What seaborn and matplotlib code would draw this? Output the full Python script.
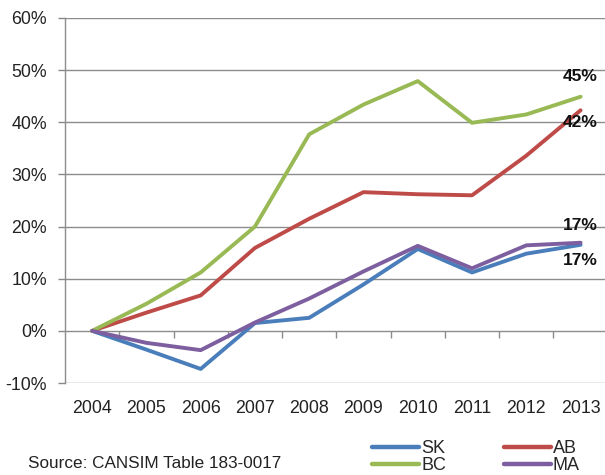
import matplotlib
matplotlib.use("Agg")
import matplotlib.pyplot as plt
import seaborn as sns
import pandas as pd
import numpy as np
from matplotlib.lines import Line2D

years = ["2004", "2005", "2006", "2007", "2008", "2009", "2010", "2011", "2012", "2013"]
sk = [0.0, -3.6, -7.3, 1.5, 2.5, 8.9, 15.7, 11.2, 14.8, 16.5]
ab = [0.0, 3.5, 6.8, 15.9, 21.5, 26.6, 26.2, 26.0, 33.6, 42.3]
bc = [0.0, 5.2, 11.2, 20.0, 37.7, 43.4, 47.9, 39.9, 41.5, 44.9]
ma = [0.0, -2.3, -3.7, 1.6, 6.2, 11.4, 16.3, 12.0, 16.4, 16.9]
series_names = ["SK", "AB", "BC", "MA"]
end_labels = {"BC": "45%", "AB": "42%", "MA": "17%", "SK": "17%"}
yticks = [-10, 0, 10, 20, 30, 40, 50, 60]
source_text = "Source: CANSIM Table 183-0017"

colors = {"SK": "#4A7EBB", "AB": "#BE4B48", "BC": "#98B954", "MA": "#7D5FA0"}

data = {"SK": sk, "AB": ab, "BC": bc, "MA": ma}
rows = []
for name in series_names:
    for i, v in enumerate(data[name]):
        rows.append({"year": i, "value": v, "region": name})
df = pd.DataFrame(rows)

sns.set_style("white")
plt.rcParams["font.family"] = ["Liberation Sans", "DejaVu Sans"]

fig = plt.figure(figsize=(6.05, 4.75), dpi=100)
ax = fig.add_axes([65 / 605, 1 - 383 / 475, 1 - 65 / 605, (383 - 18) / 475])

sns.lineplot(data=df, x="year", y="value", hue="region", hue_order=series_names,
             palette=colors, linewidth=2.8, ax=ax, legend=False)

ax.set_xlim(-0.5, 9.45)
ax.set_ylim(-10, 60)
ax.set_yticks(yticks)
ax.set_yticklabels([f"{t}%" for t in yticks], fontsize=12.8, color="#222222")
ax.set_xticks(range(len(years)))
ax.set_xticklabels(years, fontsize=12.8, color="#222222")
ax.tick_params(axis="x", length=0, pad=12)
ax.tick_params(axis="y", length=5, width=1, color="#888888", direction="out", pad=8, left=True)
ax.set_xlabel("")
ax.set_ylabel("")

for t in yticks:
    ax.axhline(t, color="#8c8c8c", linewidth=1.0, zorder=0)

for s in ["top", "right", "bottom"]:
    ax.spines[s].set_visible(False)
ax.spines["left"].set_color("#8c8c8c")
ax.spines["left"].set_linewidth(1.0)

# category boundary ticks on the 0% axis line
sec = ax.secondary_xaxis(location=10 / 70)
sec.set_xticks([i + 0.5 for i in range(len(years) - 1)])
sec.set_xticklabels([])
sec.tick_params(axis="x", length=5, width=1, color="#8c8c8c", direction="out")
for s in sec.spines.values():
    s.set_visible(False)

# end labels
last = len(years) - 1
offsets = {"BC": (0, 3.9), "AB": (0, -2.3), "MA": (0, 3.4), "SK": (0, -3.0)}
for name in ["BC", "AB", "MA", "SK"]:
    dx, dy = offsets[name]
    ax.text(last + dx, data[name][-1] + dy, end_labels[name], fontsize=12.5,
            fontweight="bold", ha="center", va="center", color="#111111", zorder=5)

# legend
order = ["SK", "BC", "AB", "MA"]
handles = [Line2D([0], [0], color=colors[n], linewidth=3.2) for n in order]
fig.legend(handles, order, ncol=2, loc="center", bbox_to_anchor=(476 / 605, 1 - 457 / 475),
           frameon=False, fontsize=13, handlelength=2.6, handletextpad=0.1,
           columnspacing=3.2, labelspacing=0.0, borderpad=0)

fig.text(28 / 605, 1 - 464 / 475, source_text, fontsize=12.3, color="#222222", va="center", ha="left")

fig.savefig("out.png", dpi=100)
